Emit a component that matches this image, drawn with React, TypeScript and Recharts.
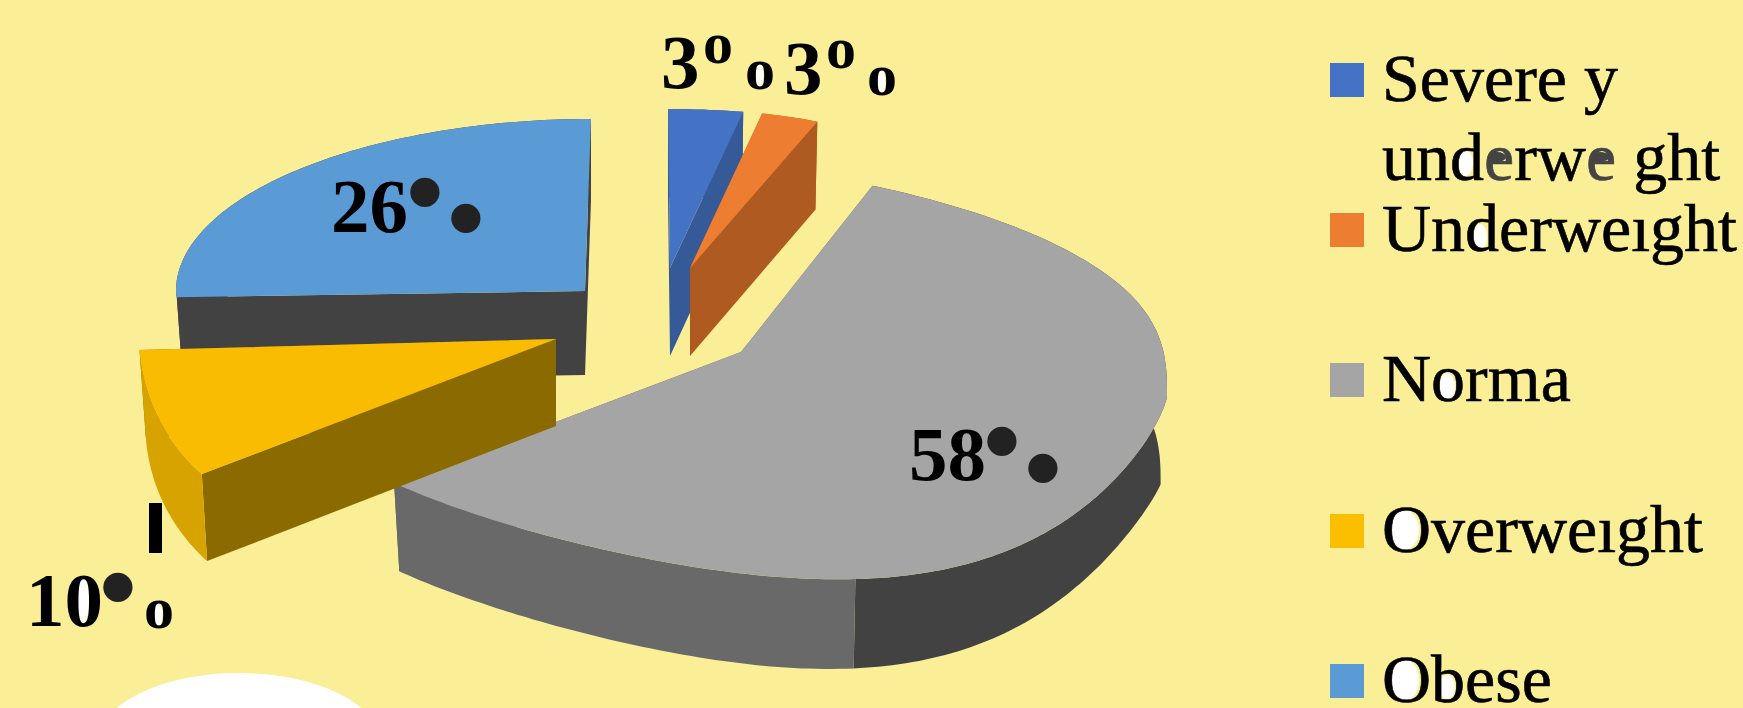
import { Legend, Pie, PieChart } from "recharts";

const WIDTH = 1743;
const HEIGHT = 708;

const categories = ["Severely underweight", "Underweight", "Normal", "Overweight", "Obese"];
const percentages = [3, 3, 58, 10, 26];
const sliceColors = ["#4472C4", "#ED7D31", "#A5A5A5", "#F9BC00", "#5B9BD5"];

// legend rows as they are printed, a run between "|" is drawn in the lighter ink
const legendLines = [["Severe y", "und|e|rw|e| ght"], ["Underweıght"], ["Norma"], ["Overweıght"], ["Obese"]];
const legendTops = [63, 213, 363, 514, 664];

// Obese goes first so the yellow wedge paints over its side wall
const drawOrder = [4, 0, 1, 2, 3];
const pieData = drawOrder.map((i) => ({ name: categories[i], value: percentages[i], fill: sliceColors[i] }));

const PIE_CX = 600;
const PIE_CY = 320;
const OUTER = 420;
const BASE_TAPER = 0.985;

// tilted, exploded look of every wedge: offset of the tip, radii per quadrant, side colours
const wedges: Record<string, any> = {
    "Severely underweight": { dx: 70, dy: -52, rxR: 401, rxL: 401, ryU: 159, ryD: 159, kR: 0, kL: 0, sxU: 2, sxD: 0, depth: 88, wall: "#355A97", rim: "#355A97" },
    Underweight: { dx: 90, dy: -52, rxR: 313, rxL: 313, ryU: 157, ryD: 157, kR: -1, kL: -1, sxU: -14, sxD: 0, depth: 88, wall: "#AE5A21", rim: "#AE5A21" },
    Normal: { dx: 141, dy: 32, rxR: 426, rxL: 476, ryU: 190, ryD: 225, kR: 44, kL: 24, sxU: 36, sxD: 38, pL: 0.8, pU: 0.7, pD: 1.5, base: { pD: 1.75, kR: 42 }, depth: 90, wall: "#696969", rim: "#424242", rimFront: "#696969", split: 170 },
    Overweight: { dx: -44, dy: 19, rxR: 417, rxL: 417, ryU: 215, ryD: 215, kR: 2.5, kL: 2.5, sxU: 0, sxD: -81, depth: 87, wall: "#8B6A00", rim: "#D6A300" },
    Obese: { dx: -15, dy: -29, rxR: 409, rxL: 409, ryU: 172, ryD: 100, kR: 0, kL: 0, sxU: -6, sxD: 0, depth: 84, wall: "#424242", rim: "#424242" },
};

// where the printed values sit, the marks are the two pieces of the percent sign
const valueLabels: Record<string, any> = {
    "Severely underweight": { x: 661, y: 88, rings: [[705, 63, false], [747, 89, true]] },
    Underweight: { x: 784, y: 94, rings: [[828, 68, false], [869, 95, true]] },
    Normal: { x: 909, y: 480, dots: [[1002, 442], [1043, 469]] },
    Overweight: { x: 26, y: 626, dots: [[118, 588]], rings: [[146, 628, true]], tick: true },
    Obese: { x: 331, y: 232, dots: [[425, 193], [466, 219]] },
};

const legendCounters = [
    { cx: 1465, cy: 163, rx: 8, ry: 13, fill: "#fff" },
    { cx: 1497, cy: 157, rx: 9, ry: 5, fill: "#444" },
    { cx: 1600, cy: 157, rx: 9, ry: 5, fill: "#444" },
    { cx: 1480, cy: 237, rx: 7, ry: 13, fill: "#fff" },
    { cx: 1447, cy: 387, rx: 8, ry: 14, fill: "#fff" },
    { cx: 1404, cy: 530, rx: 15, ry: 20, fill: "#fff" },
    { cx: 1404, cy: 680, rx: 15, ry: 21, fill: "#fff" },
    { cx: 1447, cy: 687, rx: 8, ry: 12, fill: "#fff" },
];

const rad = (deg: number) => (deg * Math.PI) / 180;

// theta runs clockwise from the top of the pie; left and right radii blend so the rim has no kink
const rimPoint = (theta: number, w: any, ox: number, oy: number, scale: number) => {
    const s = Math.sin(rad(theta));
    const c = Math.cos(rad(theta));
    const t = (s + 1) / 2;
    const mix = (left: number, right: number) => left + (right - left) * t;
    const ry = c > 0 ? w.ryU : w.ryD;
    const p = mix(w.pL ?? 1, c > 0 ? w.pU ?? 1 : w.pD ?? 1);
    const x = s * mix(w.rxL, w.rxR) - c * Math.abs(c) * (c > 0 ? w.sxU : w.sxD);
    const y = -Math.sign(c) * Math.pow(Math.abs(c), p) * ry + s * mix(w.kL, w.kR);
    return [ox + x * scale, oy + y * scale];
};

const toPath = (pts: number[][]) => "M" + pts.map((p) => p[0].toFixed(1) + "," + p[1].toFixed(1)).join("L") + "Z";

// same rim on the underside of the slab, a little narrower
const basePoint = (theta: number, w: any, ox: number, oy: number, scale: number) => {
    const p = rimPoint(theta, { ...w, ...w.base }, ox, oy, scale);
    return [ox + (p[0] - ox) * BASE_TAPER, p[1] + w.depth];
};

const rimBand = (from: number, to: number, w: any, ox: number, oy: number, scale: number) => {
    const angles: number[] = [];
    for (let t = from; t < to; t += 1) angles.push(t);
    angles.push(to);
    const top = angles.map((t) => rimPoint(t, w, ox, oy, scale));
    const bottom = angles.map((t) => basePoint(t, w, ox, oy, scale)).reverse();
    return { top, path: toPath([...top, ...bottom]) };
};

const Wedge3D = (props: any) => {
    const { cx, cy, outerRadius, startAngle, endAngle, name, fill } = props;
    const w = wedges[name];
    const scale = outerRadius / OUTER;
    const ox = cx + w.dx;
    const oy = cy + w.dy;
    const t0 = 90 - startAngle;
    const t1 = 90 - endAngle;
    const side = (t: number) =>
        toPath([[ox, oy], rimPoint(t, w, ox, oy, scale), basePoint(t, w, ox, oy, scale), [ox, oy + w.depth]]);

    const bands = [];
    if (w.split) {
        const cut = t0 - (((t0 % 360) + 360) % 360) + w.split;
        bands.push({ ...rimBand(t0, cut, w, ox, oy, scale), color: w.rim });
        bands.push({ ...rimBand(cut, t1, w, ox, oy, scale), color: w.rimFront });
    } else {
        bands.push({ ...rimBand(t0, t1, w, ox, oy, scale), color: w.rim });
    }
    const rimTop = bands.flatMap((b) => b.top);

    return (
        <g>
            <path d={side(t0)} fill={w.wall} />
            <path d={side(t1)} fill={w.wall} />
            {bands.map((b, i) => (
                <path key={i} d={b.path} fill={b.color} />
            ))}
            <path d={toPath([[ox, oy], ...rimTop])} fill={fill} />
        </g>
    );
};

const ValueLabel = (props: any) => {
    const spot = valueLabels[props.name];
    const font = { fontFamily: "Liberation Serif", fontWeight: 700 };
    return (
        <g>
            {spot.tick && <rect x={149} y={503} width={13} height={50} fill="#000" />}
            {props.name === "Overweight" && <ellipse cx={83} cy={600} rx={6} ry={23} fill="#fff" />}
            <text x={spot.x} y={spot.y} fontSize={77} fill="#000" {...font}>
                {props.value}
            </text>
            {(spot.rings || []).map(([x, y, white]: any, i: number) => (
                <g key={i}>
                    {white && <ellipse cx={x + 12.5} cy={y - 13.5} rx={4} ry={11} fill="#fff" />}
                    <text x={x - 2} y={y} fontSize={60} fill="#000" {...font}>
                        o
                    </text>
                </g>
            ))}
            {(spot.dots || []).map(([x, y]: number[], i: number) => (
                <text key={i} x={x} y={y + 35} fontSize={108} textAnchor="middle" fill="#222" {...font}>
                    •
                </text>
            ))}
        </g>
    );
};

const LegendRows = () => (
    <svg width={WIDTH} height={HEIGHT} style={{ display: "block" }}>
        {legendCounters.map((c, i) => (
            <ellipse key={i} {...c} />
        ))}
        {categories.map((cat, i) => (
            <g key={cat}>
                <rect x={1330} y={legendTops[i]} width={34} height={34} fill={i === 3 ? "#FBBF00" : sliceColors[i]} />
                {legendLines[i].map((line, j) => (
                    <text key={j} x={1382} y={legendTops[i] + 38 + j * 79} fontSize={68} fontFamily="Liberation Serif" strokeWidth={0.6}>
                        {line.split("|").map((run, k) => (
                            <tspan key={k} fill={k % 2 ? "#444" : "#000"} stroke={k % 2 ? "#444" : "#000"}>
                                {run}
                            </tspan>
                        ))}
                    </text>
                ))}
            </g>
        ))}
    </svg>
);

export default function App() {
    return (
        <div style={{ position: "fixed", left: 0, top: 0, width: WIDTH, height: HEIGHT, overflow: "hidden", background: "#FAEE96" }}>
            <div style={{ position: "absolute", left: 98, top: 673, width: 282, height: 140, borderRadius: "50%", background: "#fff" }} />
            <PieChart width={WIDTH} height={HEIGHT} margin={{ top: 0, right: 0, bottom: 0, left: 0 }}>
                <Pie
                    data={pieData}
                    dataKey="value"
                    nameKey="name"
                    cx={PIE_CX}
                    cy={PIE_CY}
                    outerRadius={OUTER}
                    startAngle={-176.4}
                    endAngle={-536.4}
                    stroke="none"
                    shape={Wedge3D}
                    label={ValueLabel}
                    labelLine={false}
                    isAnimationActive={false}
                />
                <Legend content={LegendRows} wrapperStyle={{ left: 0, top: 0, width: WIDTH, height: HEIGHT }} />
            </PieChart>
        </div>
    );
}
